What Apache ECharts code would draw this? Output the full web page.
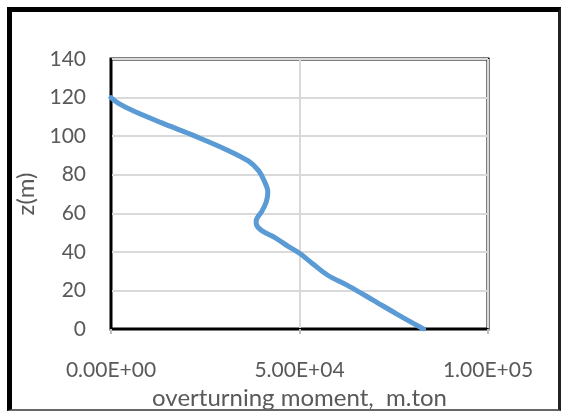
<!DOCTYPE html>
<html>
<head>
<meta charset="utf-8">
<script src="https://cdn.jsdelivr.net/npm/echarts@6/dist/echarts.min.js"></script>
<style>
  html, body { margin: 0; padding: 0; background: #fff; }
  #chart { position: absolute; left: 0; top: 0; width: 563px; height: 412px; }
  #frame {
    position: absolute; left: 7px; top: 7px; width: 546px; height: 397px;
    border-left: 5px solid #000; border-top: 5px solid #000;
    border-right: 3px solid #222; border-bottom: 2px solid #666;
    pointer-events: none;
  }
</style>
</head>
<body>
<div id="chart"></div>
<div id="frame"></div>
<script>
// Overturning moment profile along the height z
const heights = [0, 8, 15, 22, 28, 34, 39, 43, 47, 51, 54, 56, 58, 61, 66, 71, 77, 82, 87, 93, 100, 107, 113, 117, 120];
const moments = [82900, 75600, 69500, 63300, 57400, 53400, 50200, 46900, 43800, 40000, 38600, 38500, 38900, 40000, 41200, 41600, 40600, 39200, 36500, 30600, 22300, 13300, 6000, 2000, 0];

const xTicks = { min: 0, max: 100000, interval: 50000 };
const yTicks = { min: 0, max: 140, interval: 20 };

const xName = 'overturning moment,  m.ton';
const yName = 'z(m)';

function sci(v) {
  // Excel-style scientific label, e.g. 5.00E+04
  if (v === 0) return '0.00E+00';
  const e = Math.floor(Math.log10(Math.abs(v)));
  const m = v / Math.pow(10, e);
  const sign = e < 0 ? '-' : '+';
  const ee = String(Math.abs(e)).padStart(2, '0');
  return m.toFixed(2) + 'E' + sign + ee;
}

const points = heights.map((z, i) => [moments[i], z]);
const FONT = 'Lato';
const GREY = '#595959';

const chart = echarts.init(document.getElementById('chart'), null, { renderer: 'canvas' });
chart.setOption({
  animation: false,
  backgroundColor: '#fff',
  grid: {
    left: 111, right: 75, top: 59, bottom: 83,
    outerBoundsMode: 'none', containLabel: false,
    show: true, borderColor: '#000', borderWidth: 3, backgroundColor: 'transparent'
  },
  xAxis: {
    type: 'value',
    min: xTicks.min, max: xTicks.max, interval: xTicks.interval,
    name: xName, nameLocation: 'middle', nameGap: 56,
    nameTextStyle: { fontFamily: FONT, fontSize: 24, color: GREY },
    axisLine: { show: true, lineStyle: { color: '#000', width: 2 } },
    axisTick: { show: true, length: 5, lineStyle: { color: '#bfbfbf', width: 2 } },
    axisLabel: { formatter: sci, fontFamily: FONT, fontSize: 21, color: GREY, margin: 31 },
    splitLine: { show: true, lineStyle: { color: '#d9d9d9', width: 2 } }
  },
  yAxis: {
    type: 'value',
    min: yTicks.min, max: yTicks.max, interval: yTicks.interval,
    name: yName, nameLocation: 'middle', nameGap: 68,
    nameTextStyle: { fontFamily: FONT, fontSize: 24, color: GREY },
    axisLine: { show: true, lineStyle: { color: '#000', width: 2 } },
    axisTick: { show: false },
    axisLabel: { fontFamily: FONT, fontSize: 21, color: GREY, margin: 25 },
    splitLine: { show: true, lineStyle: { color: '#d9d9d9', width: 2 } }
  },
  series: [{
    type: 'line',
    data: points,
    smooth: 0.35,
    showSymbol: false,
    lineStyle: { color: '#5b9bd5', width: 5, cap: 'round', join: 'round' },
    z: 3
  }]
});
</script>
</body>
</html>
